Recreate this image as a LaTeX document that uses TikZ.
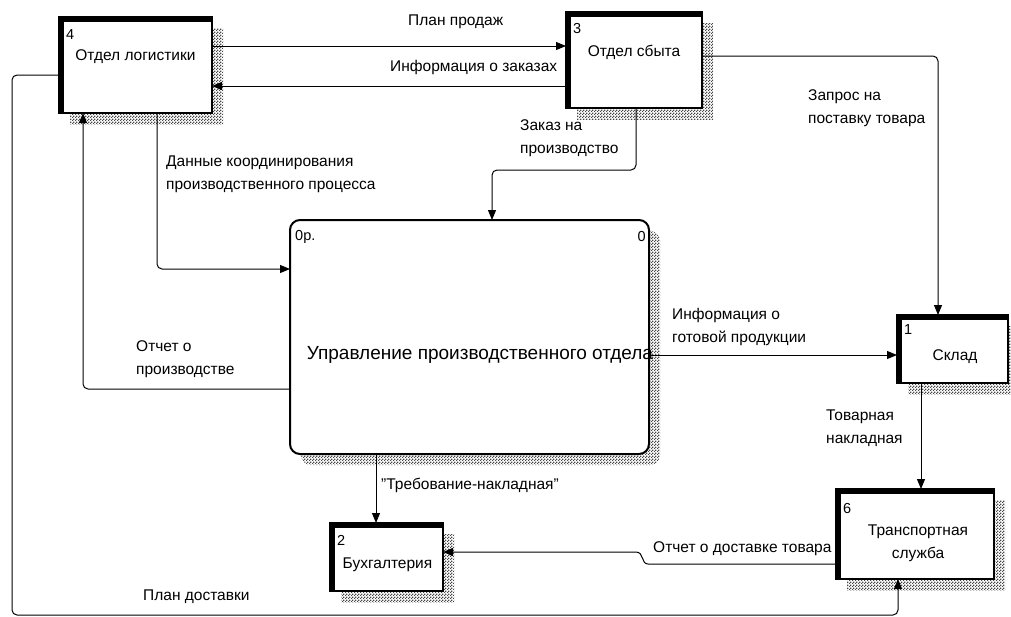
\documentclass[tikz,border=0pt]{standalone}
\usepackage{fontspec}
\setmainfont{Liberation Sans}
\usetikzlibrary{arrows.meta,patterns,calc}
\pgfdeclarepatternformonly{shadowchecker}{\pgfpointorigin}{\pgfpoint{3pt}{3pt}}{\pgfpoint{3pt}{3pt}}{%
  \pgfpathrectangle{\pgfpointorigin}{\pgfpoint{1.5pt}{1.5pt}}%
  \pgfpathrectangle{\pgfpoint{1.5pt}{1.5pt}}{\pgfpoint{1.5pt}{1.5pt}}%
  \pgfusepath{fill}}
\newcommand\extbox[5]{%
  \fill[shadowpat] ({#2+11},{#3+11}) rectangle ({#4+11},{#5+11});
  \node[extent, minimum width={#4-#2}, minimum height={#5-#3}] (#1) at ({(#2+#4)/2},{(#3+#5)/2}) {};
  \draw[line width=4.5pt] ([xshift=2.25pt]#1.south west) -- ([xshift=2.25pt,yshift=-2.25pt]#1.north west) -- ([yshift=-2.25pt]#1.north east);
}
\begin{document}
\begin{tikzpicture}[x=1pt,y=-1pt,
  shadowpat/.style={pattern=shadowchecker, pattern color=black!72},
  extent/.style={draw, line width=2pt, fill=white, inner sep=0pt, outer sep=0pt},
  flow/.style={line width=1pt, rounded corners=5pt},
  arr/.style={-{Triangle[length=10pt,width=8pt]}},
  lab/.style={font=\fontsize{15.5}{23}\selectfont, anchor=west, inner sep=0pt, align=left},
  bname/.style={font=\fontsize{15.5}{23}\selectfont, inner sep=0pt, align=center},
  num/.style={font=\fontsize{14.5}{17}\selectfont, anchor=west, inner sep=0pt}]
\useasboundingbox (0,0) rectangle (1011,616);
\fill[white] (0,0) rectangle (1011,616);

% central activity
\fill[shadowpat, rounded corners=10pt] (301,231) rectangle (660,465);
\node[draw, line width=2pt, fill=white, rounded corners=10pt, minimum width=359, minimum height=234, inner sep=0pt, outer sep=0pt] (b0) at (469.5,337) {};
\node[num] (b0n) at (295,237) {0р.};
\node[num, anchor=east] (b0k) at (646,237) {0};
\node[font=\fontsize{19}{23}\selectfont, inner sep=0pt] (b0t) at (480,355) {Управление производственного отдела};

% external entities
\extbox{b4}{59}{17}{212}{113}
\extbox{b3}{566}{12}{702}{108}
\extbox{b1}{897}{315}{1008}{383}
\extbox{b2}{330}{523}{443}{591}
\extbox{b6}{836}{489}{994}{579}

\node[num] (b4n) at (66,35) {4};
\node[bname] (b4t) at (135.5,57) {Отдел логистики};
\node[num] (b3n) at (573,29) {3};
\node[bname] (b3t) at (634,52) {Отдел сбыта};
\node[num] (b1n) at (904,330) {1};
\node[bname] (b1t) at (955,357) {Склад};
\node[num] (b2n) at (337,540) {2};
\node[bname] (b2t) at (387.5,565) {Бухгалтерия};
\node[num] (b6n) at (843,508) {6};
\node[bname] (b6t) at (918,543.5) {Транспортная\\служба};

% connectors
\draw[flow,arr] (b4.east |- 0,46) -- (b3.west |- 0,46);
\draw[flow,arr] (b3.west |- 0,86) -- (b4.east |- 0,86);
\draw[flow,arr] (b4.west |- 0,75) -- (12,75) -- (12,615) -- (898,615) -- (b6.south -| 898,0);
\draw[flow,arr] (b4.south -| 157,0) -- (157,269) -- (b0.west |- 0,269);
\draw[flow,arr] (b0.west |- 0,389) -- (83,389) -- (b4.south -| 83,0);
\draw[flow,arr] (b3.south -| 636,0) -- (636,170) -- (492,170) -- (b0.north -| 492,0);
\draw[flow,arr] (b3.east |- 0,56) -- (938,56) -- (b1.north -| 938,0);
\draw[flow,arr] (b0.east |- 0,355) -- (b1.west |- 0,355);
\draw[flow,arr] (b1.south -| 921,0) -- (b6.north -| 921,0);
\draw[line width=1pt,arr] (b6.west |- 0,564) -- (648,564) .. controls (641,564) and (644,552) .. (636,552) -- (b2.east |- 0,552);
\draw[flow,arr] (b0.south -| 376,0) -- (b2.north -| 376,0);

% labels
\node[lab] (l1) at (408,22) {План продаж};
\node[lab] (l2) at (390,67) {Информация о заказах};
\node[lab] (l3) at (166,174.5) {Данные координирования\\производственного процесса};
\node[lab] (l4) at (520,138.5) {Заказ на\\производство};
\node[lab] (l5) at (808,108.5) {Запрос на\\поставку товара};
\node[lab] (l6) at (672,327) {Информация о\\готовой продукции};
\node[lab] (l7) at (136,359) {Отчет о\\производстве};
\node[lab] (l8) at (826,428.5) {Товарная\\накладная};
\node[lab] (l9) at (653,549) {Отчет о доставке товара};
\node[lab] (l10) at (381,485) {\char34 Требование-накладная\char34};
\node[lab] (l11) at (143,597) {План доставки};
\end{tikzpicture}
\end{document}
